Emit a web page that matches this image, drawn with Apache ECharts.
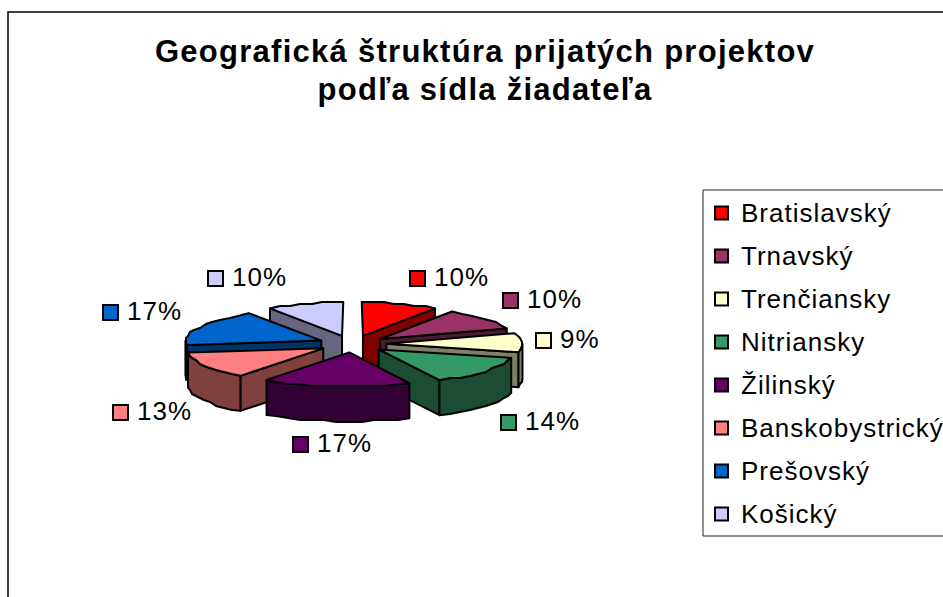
<!DOCTYPE html>
<html>
<head>
<meta charset="utf-8">
<style>
  html, body { margin: 0; padding: 0; background: #fff; overflow: hidden; }
  #chart { width: 943px; height: 597px; }
  /* the original has wide, hinted glyph spacing */
  #chart svg text { letter-spacing: 1px; }
  #chart svg text[style*="bold"] { letter-spacing: 1.27px; }
</style>
<script src="https://cdn.jsdelivr.net/npm/echarts@6/dist/echarts.min.js"></script>
</head>
<body>
<div id="chart"></div>
<script>
const regions = ['Bratislavský', 'Trnavský', 'Trenčiansky', 'Nitriansky', 'Žilinský', 'Banskobystrický', 'Prešovský', 'Košický'];
const shares = [10, 10, 9, 14, 17, 13, 17, 10];
const colors = ['#ff0000', '#993366', '#ffffcc', '#339966', '#660066', '#ff8080', '#0066cc', '#ccccff'];
const FONT = '"Liberation Sans", Arial, sans-serif';

// fake 3D pie, Excel style: plan view squashed and tilted
const pie = { cx: 352.5, cy: 344, r: 136, squash: 0.25, tiltFront: 0.03, tiltBack: 0.08, explode: 34, depth: 35, snap: 2 };
// where each percent label sits (marker centre)
const labelSpots = [[417, 278], [510, 300], [543, 340], [508, 422], [300, 444], [120, 412], [110, 312], [215, 278]];

const total = shares.reduce((a, b) => a + b, 0);
const toAngle = v => v / total * Math.PI * 2;

const slices = [];
let acc = 0;
shares.forEach((v, i) => {
  const start = toAngle(acc);
  acc += v;
  slices.push({ i, start, end: toAngle(acc), mid: (start + toAngle(acc)) / 2 });
});
// painter's order, back to front
const order = slices.slice().sort((a, b) => (-Math.cos(a.mid)) - (-Math.cos(b.mid)));

const project = (u, v, h) => {
  const t = v > 0 ? pie.tiltFront : -pie.tiltBack;
  const s = 1 + t * (v / pie.r) * (v / pie.r);
  return [pie.cx + u * s, pie.cy + v * pie.squash + h];
};

function shade(hex) {
  const n = parseInt(hex.slice(1), 16);
  const c = [n >> 16, (n >> 8) & 255, n & 255].map(x => Math.round(x / 2));
  return `rgb(${c.join(',')})`;
}

function rimPoint(s, a, h) {
  const ex = Math.sin(s.mid) * pie.explode;
  const ey = -Math.cos(s.mid) * pie.explode;
  return project(ex + Math.sin(a) * pie.r, ey - Math.cos(a) * pie.r, h);
}

// coarse steps and snapped points give the wavy rim of the original
function rimPoints(s, from, to, h) {
  const n = Math.max(2, Math.ceil((to - from) / 0.09));
  const pts = [];
  for (let k = 0; k <= n; k++) {
    const p = rimPoint(s, from + (to - from) * k / n, h);
    if (k > 0 && k < n) {
      p[0] = Math.round(p[0] / pie.snap) * pie.snap;
      p[1] = Math.round(p[1] / pie.snap) * pie.snap;
    }
    pts.push(p);
  }
  return pts;
}

function poly(points, fill) {
  return {
    type: 'polygon',
    shape: { points },
    style: { fill, stroke: '#000', lineWidth: 2, lineJoin: 'round' }
  };
}

function sliceShapes(s) {
  const color = colors[s.i];
  const dark = shade(color);
  const ex = Math.sin(s.mid) * pie.explode;
  const ey = -Math.cos(s.mid) * pie.explode;
  const tip = project(ex, ey, 0);
  const tipLow = project(ex, ey, pie.depth);
  const kids = [];

  // radial walls, only the ones facing the viewer
  if (Math.sin(s.start) < -0.001) {
    kids.push(poly([tip, rimPoint(s, s.start, 0), rimPoint(s, s.start, pie.depth), tipLow], dark));
  }
  if (Math.sin(s.end) > 0.001) {
    kids.push(poly([tip, rimPoint(s, s.end, 0), rimPoint(s, s.end, pie.depth), tipLow], dark));
  }

  // outer side, front half only
  const from = Math.max(s.start, Math.PI / 2);
  const to = Math.min(s.end, Math.PI * 1.5);
  if (to > from) {
    const upper = rimPoints(s, from, to, 0);
    const lower = rimPoints(s, from, to, pie.depth).reverse();
    kids.push(poly(upper.concat(lower), dark));
  }

  kids.push(poly([tip].concat(rimPoints(s, s.start, s.end, 0)), color));

  const spot = labelSpots[s.i];
  kids.push({
    type: 'rect',
    shape: { x: spot[0] - 7, y: spot[1] - 7, width: 15, height: 15 },
    style: { fill: color, stroke: '#000', lineWidth: 2 }
  });
  kids.push({
    type: 'text',
    style: {
      text: shares[s.i] + '%',
      x: spot[0] + 17,
      y: spot[1] - 1,
      verticalAlign: 'middle',
      fill: '#000',
      font: '26px ' + FONT
    }
  });
  return { type: 'group', children: kids };
}

const chart = echarts.init(document.getElementById('chart'), null, { renderer: 'svg' });

chart.setOption({
  animation: false,
  backgroundColor: '#fff',
  title: {
    text: 'Geografická štruktúra prijatých projektov\npodľa sídla žiadateľa',
    left: 480,
    top: 27,
    textAlign: 'center',
    textStyle: { fontFamily: FONT, fontWeight: 'bold', fontSize: 31, lineHeight: 38, color: '#000' }
  },
  legend: {
    orient: 'vertical',
    left: 703,
    top: 190,
    padding: [9, 60, 8, 11],
    itemWidth: 13,
    itemHeight: 13,
    itemGap: 15,
    icon: 'rect',
    data: regions,
    borderColor: '#222',
    borderWidth: 1,
    textStyle: { fontFamily: FONT, fontSize: 26, color: '#000', padding: [0, 0, 0, 8], lineHeight: 28 },
    selectedMode: false
  },
  graphic: [{
    type: 'rect',
    silent: true,
    z: -1,
    shape: { x: 8, y: 12, width: 1000, height: 700 },
    style: { fill: 'none', stroke: '#000', lineWidth: 1.5 }
  }],
  series: regions.map((name, i) => ({
    type: 'custom',
    name,
    coordinateSystem: 'none',
    silent: true,
    z: 2 + order.findIndex(s => s.i === i),
    itemStyle: { color: colors[i], borderColor: '#000', borderWidth: 2 },
    data: [shares[i]],
    renderItem: () => sliceShapes(slices[i])
  }))
});
</script>
</body>
</html>
